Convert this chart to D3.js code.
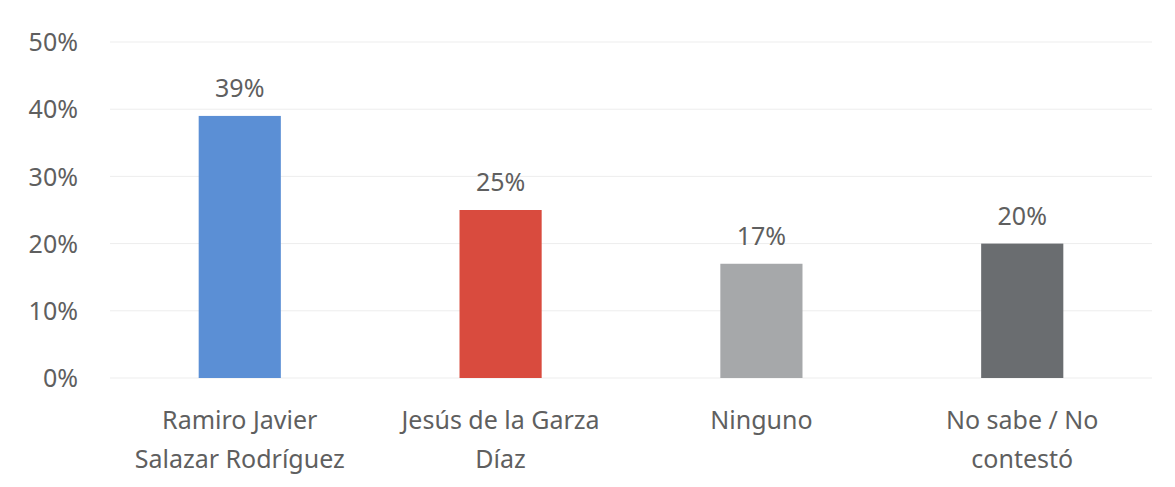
<!DOCTYPE html>
<html>
<head>
<meta charset="utf-8">
<script src="https://cdn.jsdelivr.net/npm/d3@7"></script>
<style>
  body { margin: 0; background: #fff; }
  text { font-family: "Noto Sans", "Open Sans", sans-serif; fill: #5f5f5f; }
</style>
</head>
<body>
<script>
// datos de la gráfica
const categories = [
    ['Ramiro Javier', 'Salazar Rodríguez'],
    ['Jesús de la Garza', 'Díaz'],
    ['Ninguno'],
    ['No sabe / No', 'contestó']
];
const values = [39, 25, 17, 20];
const barColors = ['#5b8fd5', '#d94b3e', '#a6a8aa', '#6a6d70'];
const yTicks = [0, 10, 20, 30, 40, 50];

const width = 1175, height = 487;
const margin = { top: 42, right: 23, bottom: 109, left: 110 };
const fontSize = 25;

const svg = d3.select('body').append('svg')
    .attr('width', width)
    .attr('height', height);

const x = d3.scaleBand()
    .domain(d3.range(values.length))
    .range([margin.left, width - margin.right])
    .paddingInner(0.685)
    .paddingOuter(0.34);

const y = d3.scaleLinear()
    .domain([0, 50])
    .range([height - margin.bottom, margin.top]);

// líneas de cuadrícula
svg.append('g')
    .selectAll('line')
    .data(yTicks)
    .join('line')
    .attr('x1', margin.left)
    .attr('x2', width - margin.right)
    .attr('y1', d => y(d))
    .attr('y2', d => y(d))
    .attr('stroke', '#ededed')
    .attr('stroke-width', 1);

// eje y
const yAxis = svg.append('g')
    .attr('transform', 'translate(' + (margin.left - 29) + ',0)')
    .call(d3.axisLeft(y).tickValues(yTicks).tickFormat(d => d + '%').tickSize(0));
yAxis.select('.domain').remove();
yAxis.selectAll('text')
    .attr('font-size', fontSize)
    .attr('dy', '0.35em')
    .style('font-family', '"Noto Sans", sans-serif')
    .attr('fill', '#5f5f5f');

// barras
svg.append('g')
    .selectAll('rect')
    .data(values)
    .join('rect')
    .attr('x', (d, i) => x(i))
    .attr('y', d => y(d))
    .attr('width', x.bandwidth())
    .attr('height', d => y(0) - y(d))
    .attr('fill', (d, i) => barColors[i]);

// etiquetas de valor
svg.append('g')
    .selectAll('text')
    .data(values)
    .join('text')
    .attr('x', (d, i) => x(i) + x.bandwidth() / 2)
    .attr('y', d => y(d) - 19)
    .attr('text-anchor', 'middle')
    .attr('font-size', fontSize)
    .text(d => d + '%');

// etiquetas de categoría
const catG = svg.append('g')
    .selectAll('text')
    .data(categories)
    .join('text')
    .attr('x', (d, i) => x(i) + x.bandwidth() / 2)
    .attr('y', y(0) + 51)
    .attr('text-anchor', 'middle')
    .attr('font-size', fontSize);
catG.selectAll('tspan')
    .data(d => d)
    .join('tspan')
    .attr('x', function() { return d3.select(this.parentNode).attr('x'); })
    .attr('dy', (d, i) => i === 0 ? 0 : 39)
    .text(d => d);
</script>
</body>
</html>
